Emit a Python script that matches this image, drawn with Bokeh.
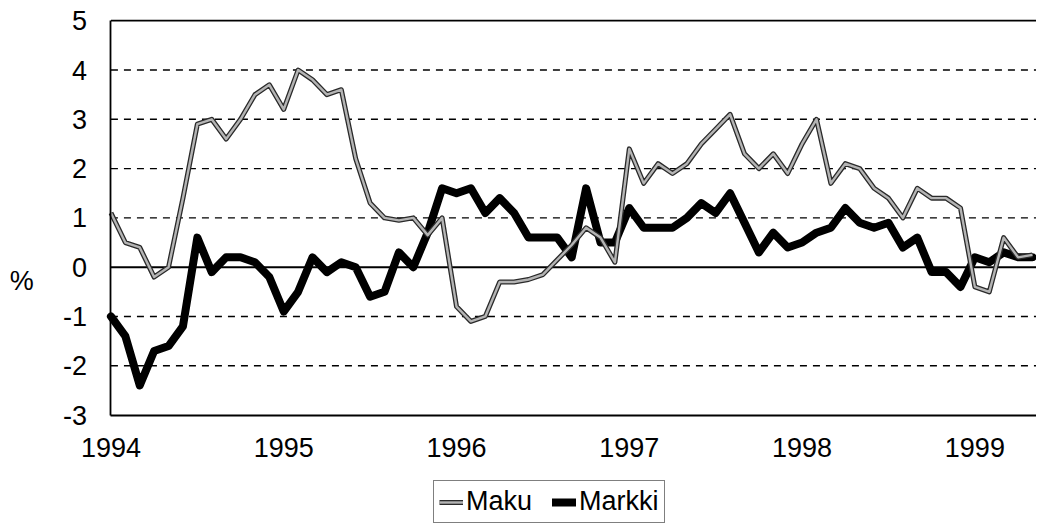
from bokeh.plotting import figure
from bokeh.models import (Range1d, FixedTicker, Legend, LegendItem, Label,
                          ColumnDataSource)
from bokeh.embed import file_html
from bokeh.resources import INLINE

# monthly data, Jan 1994 .. May 1999
month_index = list(range(65))
maku = [1.1, 0.5, 0.4, -0.2, 0.0, 1.4, 2.9, 3.0, 2.6, 3.0, 3.5, 3.7,
        3.2, 4.0, 3.8, 3.5, 3.6, 2.2, 1.3, 1.0, 0.95, 1.0, 0.65, 1.0,
        -0.8, -1.1, -1.0, -0.3, -0.3, -0.25, -0.15, 0.15, 0.45, 0.8, 0.6, 0.1,
        2.4, 1.7, 2.1, 1.9, 2.1, 2.5, 2.8, 3.1, 2.3, 2.0, 2.3, 1.9,
        2.5, 3.0, 1.7, 2.1, 2.0, 1.6, 1.4, 1.0, 1.6, 1.4, 1.4, 1.2,
        -0.4, -0.5, 0.6, 0.2, 0.25]
markki = [-1.0, -1.4, -2.4, -1.7, -1.6, -1.2, 0.6, -0.1, 0.2, 0.2, 0.1, -0.2,
          -0.9, -0.5, 0.2, -0.1, 0.1, 0.0, -0.6, -0.5, 0.3, 0.0, 0.7, 1.6,
          1.5, 1.6, 1.1, 1.4, 1.1, 0.6, 0.6, 0.6, 0.2, 1.6, 0.5, 0.5,
          1.2, 0.8, 0.8, 0.8, 1.0, 1.3, 1.1, 1.5, 0.9, 0.3, 0.7, 0.4,
          0.5, 0.7, 0.8, 1.2, 0.9, 0.8, 0.9, 0.4, 0.6, -0.1, -0.1, -0.4,
          0.2, 0.1, 0.3, 0.2, 0.2]
year_ticks = [0, 12, 24, 36, 48, 60]
year_labels = ["1994", "1995", "1996", "1997", "1998", "1999"]
y_ticks = [-3, -2, -1, 0, 1, 2, 3, 4, 5]
y_labels = ["-3", "-2", "-1", "0", "1", "2", "3", "4", "5"]
dashed_grid = [-2, -1, 1, 2, 3, 4]

FONT = "Liberation Sans"
X_END = 64.28

p = figure(width=1036, height=523, output_backend="svg", toolbar_location=None,
           x_range=Range1d(-7.67, X_END), y_range=Range1d(-5.2, 5.41),
           min_border_left=0, min_border_right=0, min_border_top=0,
           min_border_bottom=0)
p.outline_line_color = None
p.background_fill_color = "white"
p.border_fill_color = "white"
p.xgrid.visible = False
p.ygrid.visible = False

# axes drawn inside the frame at fixed positions
for ax in (p.xaxis[0], p.yaxis[0]):
    ax.major_tick_line_color = None
    ax.minor_tick_line_color = None
    ax.major_label_text_font = FONT
    ax.major_label_text_font_size = "27px"
    ax.major_label_text_color = "black"
    ax.axis_line_color = "black"
    ax.axis_line_width = 1.8

p.xaxis.fixed_location = min(y_ticks)
p.xaxis.bounds = (0, X_END)
p.xaxis.ticker = FixedTicker(ticks=year_ticks)
p.xaxis.major_label_overrides = {t: l for t, l in zip(year_ticks, year_labels)}
p.xaxis.major_label_standoff = 17

p.yaxis.fixed_location = 0
p.yaxis.bounds = (min(y_ticks), max(y_ticks))
p.yaxis.ticker = FixedTicker(ticks=y_ticks)
p.yaxis.major_label_overrides = {t: l for t, l in zip(y_ticks, y_labels)}
p.yaxis.major_label_standoff = 18

# horizontal grid lines (dashed), zero line and top line (solid)
p.segment(x0=[0] * len(dashed_grid), y0=dashed_grid,
          x1=[X_END] * len(dashed_grid), y1=dashed_grid,
          line_color="black", line_width=1.4, line_dash="7 6")
p.segment(x0=[0], y0=[0], x1=[X_END], y1=[0], line_color="black", line_width=2)
p.segment(x0=[0], y0=[max(y_ticks)], x1=[X_END], y1=[max(y_ticks)],
          line_color="black", line_width=1.8)

src = ColumnDataSource(dict(x=month_index, maku=maku, markki=markki))

r_markki = p.line("x", "markki", source=src, line_color="black", line_width=8,
                  line_join="round", line_cap="round")
r_maku_o = p.line("x", "maku", source=src, line_color="#2a2a2a", line_width=5,
                  line_join="round")
r_maku_i = p.line("x", "maku", source=src, line_color="#b4b4b4", line_width=2.4,
                  line_join="round")

legend = Legend(items=[LegendItem(label="Maku", renderers=[r_maku_o, r_maku_i]),
                       LegendItem(label="Markki", renderers=[r_markki])],
                orientation="horizontal", location=(433, 0),
                label_text_font=FONT, label_text_font_size="27px",
                label_text_color="black",
                glyph_width=24, glyph_height=20, label_standoff=3, spacing=20,
                padding=5, margin=0, border_line_color="black", border_line_width=1.5,
                background_fill_color="white", background_fill_alpha=1)
p.add_layout(legend)

p.add_layout(Label(x=-6.2, y=-0.29, text="%", text_font=FONT, text_font_size="27px",
                   text_align="center", text_baseline="middle", text_color="black"))

open("out.html", "w").write(file_html(p, INLINE))
